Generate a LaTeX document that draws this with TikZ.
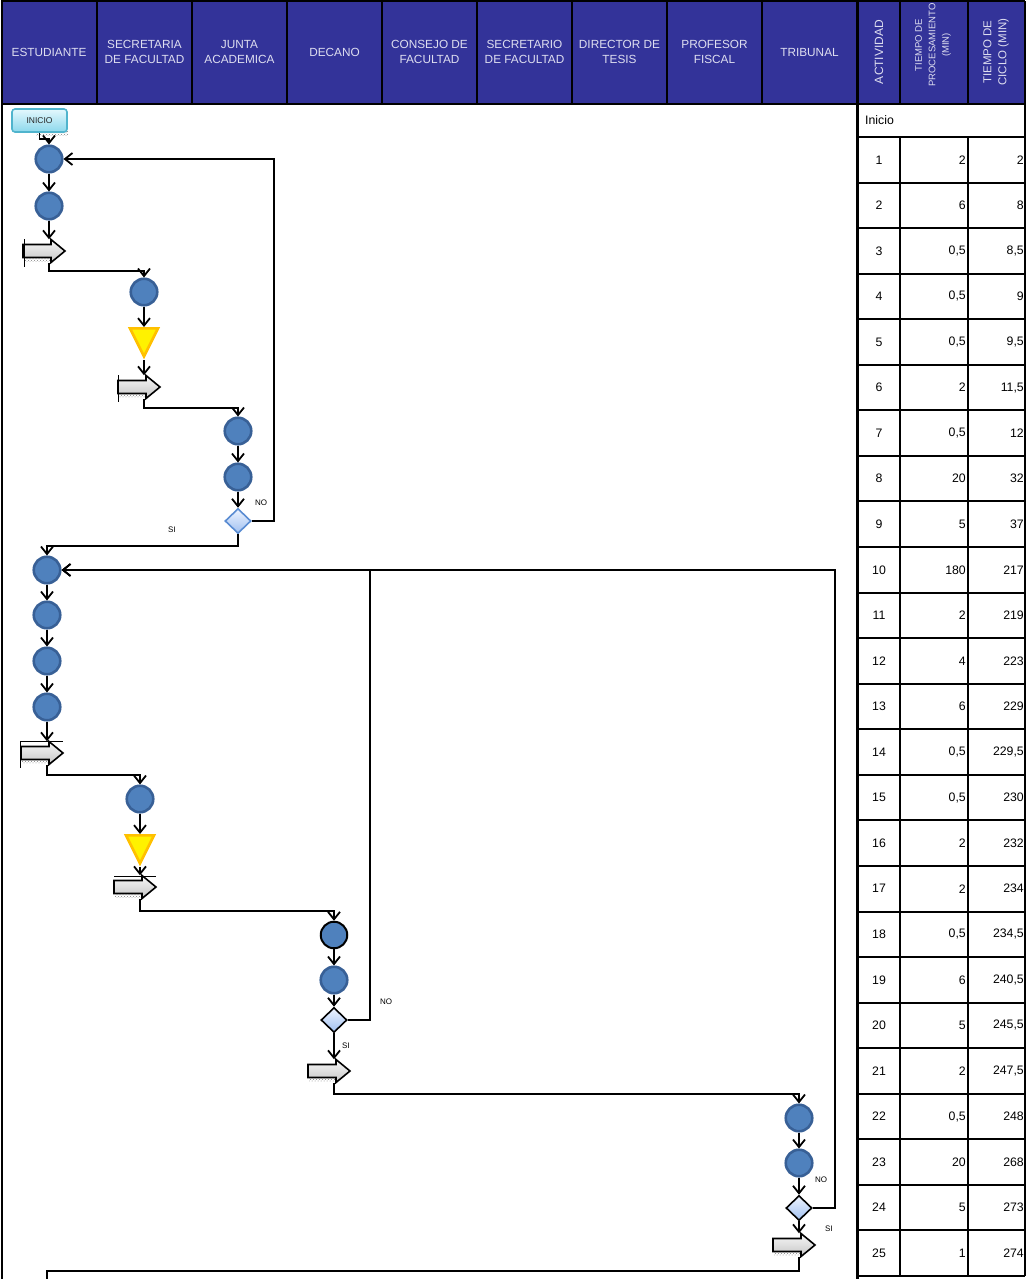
\documentclass[tikz,border=0pt]{standalone}
\usepackage{fontspec}
\setmainfont{Liberation Sans}
\usetikzlibrary{arrows.meta,shapes.geometric,calc,patterns}

\definecolor{headblue}{RGB}{51,51,153}
\definecolor{headtext}{RGB}{222,222,240}
\definecolor{opfill}{RGB}{79,129,189}
\definecolor{opline}{RGB}{56,96,150}
\definecolor{deltaline}{RGB}{255,192,0}
\definecolor{decline}{RGB}{90,140,210}
\definecolor{dectop}{RGB}{238,244,255}
\definecolor{decbot}{RGB}{160,192,240}
\definecolor{startline}{RGB}{80,180,205}
\definecolor{starttop}{RGB}{228,248,253}
\definecolor{startbot}{RGB}{140,216,236}

% transport step: an anchor node at the connector's x, with the block arrow drawn round it
\newcommand\movearrow[3]{%
  \node[tnode] (#1) at (#2,#3) {};
  \fill[pattern=crosshatch dots, pattern color=gray] ($(#1)+(-25,6)$) rectangle ($(#1)+(2,10)$);
  \draw[tshape] ($(#1)+(-26,-6.5)$) -- ($(#1)+(2,-6.5)$) -- ($(#1)+(2,-11.5)$)
     -- ($(#1)+(16,0)$) -- ($(#1)+(2,11.5)$) -- ($(#1)+(2,6.5)$)
     -- ($(#1)+(-26,6.5)$) -- cycle;
}

\begin{document}
\begin{tikzpicture}[x=1pt,y=-1pt,
  grid/.style={line width=2pt,black},
  lanehead/.style={text=headtext,align=center,font=\fontsize{11.8}{15.5}\selectfont},
  cell/.style={inner sep=0,font=\fontsize{12.3}{14}\selectfont},
  op/.style={circle,minimum size=26.5,inner sep=0,fill=opfill,draw=opline,line width=2.6pt},
  wait/.style={isosceles triangle,isosceles triangle stretches,shape border rotate=-90,
     minimum width=28,minimum height=28,inner sep=0,fill=yellow,draw=deltaline,line width=2.6pt},
  decision/.style={diamond,minimum width=26,minimum height=25,inner sep=0,
     top color=dectop,bottom color=decbot,draw=black,line width=1.6pt},
  tnode/.style={rectangle,minimum width=2,minimum height=23,inner sep=0},
  tshape/.style={draw=black,line width=1.6pt,top color=gray!6,bottom color=gray!45},
  startbox/.style={rounded corners=3pt,minimum width=55,minimum height=23,
     top color=starttop,bottom color=startbot,draw=startline,line width=1.6pt,
     font=\fontsize{8.5}{10}\selectfont,text=black!85},
  flow/.style={line width=1.8pt,-{Straight Barb[length=7.5pt,width=12pt]}},
  tag/.style={font=\fontsize{8}{9}\selectfont,inner sep=0}]

\useasboundingbox (0,0) rectangle (1026,1279);

% ---------- header ----------
\fill[headblue] (1,1) rectangle (1025,104);
\foreach \x in {97,192,287,382,477,572,667,762}
  \draw[grid] (\x,1) -- (\x,104);
\draw[grid] (1,1) -- (1025,1);
\draw[grid] (1,104) -- (1025,104);
\draw[grid] (2,1) -- (2,1279);
\draw[line width=3pt] (857,1) -- (857,1279);
\draw[grid] (900,1) -- (900,104);
\draw[grid] (968,1) -- (968,104);
\draw[grid] (1025,1) -- (1025,1276);

\node[lanehead] (lane1) at (49,52) {ESTUDIANTE};
\node[lanehead] (lane2) at (144.5,52) {SECRETARIA\\DE FACULTAD};
\node[lanehead] (lane3) at (239.5,52) {JUNTA\\ACADEMICA};
\node[lanehead] (lane4) at (334.5,52) {DECANO};
\node[lanehead] (lane5) at (429.5,52) {CONSEJO DE\\FACULTAD};
\node[lanehead] (lane6) at (524.5,52) {SECRETARIO\\DE FACULTAD};
\node[lanehead] (lane7) at (619.5,52) {DIRECTOR DE\\TESIS};
\node[lanehead] (lane8) at (714.5,52) {PROFESOR\\FISCAL};
\node[lanehead] (lane9) at (809.5,52) {TRIBUNAL};

\node[lanehead,rotate=90,font=\fontsize{12}{15}\selectfont] (hact) at (879,52) {ACTIVIDAD};
\node[lanehead,rotate=90,font=\fontsize{9.5}{13.5}\selectfont] (htp) at (933,45) {TIEMPO DE\\PROCESAMIENTO\\(MIN)};
\node[lanehead,rotate=90,font=\fontsize{11.5}{15}\selectfont] (htc) at (996,52) {TIEMPO DE\\CICLO (MIN)};

% ---------- table ----------
\node[cell,anchor=west] (inicio) at (865,120) {Inicio};
\foreach \k in {0,...,25}
  \draw[grid] (857,{137+45.56*\k}) -- (1025,{137+45.56*\k});
\draw[grid] (900,137) -- (900,1276);
\draw[grid] (968,137) -- (968,1276);
\foreach \i/\p/\c in {1/2/2, 2/6/8, 3/{0,5}/{8,5}, 4/{0,5}/9, 5/{0,5}/{9,5},
   6/2/{11,5}, 7/{0,5}/12, 8/20/32, 9/5/37, 10/180/217, 11/2/219, 12/4/223,
   13/6/229, 14/{0,5}/{229,5}, 15/{0,5}/230, 16/2/232, 17/2/234,
   18/{0,5}/{234,5}, 19/6/{240,5}, 20/5/{245,5}, 21/2/{247,5}, 22/{0,5}/248,
   23/20/268, 24/5/273, 25/1/274}{
  \pgfmathsetmacro\yy{137+45.56*(\i-0.5)}
  \node[cell] (act-\i) at (879,\yy) {\i};
  \node[cell,anchor=east] (tp-\i) at (966,\yy) {\p};
  \node[cell,anchor=east] (tc-\i) at (1024,\yy) {\c};
}

% ---------- flow ----------
\fill[pattern=crosshatch dots, pattern color=gray] (36,132) rectangle (68,136);
\node[startbox] (start) at (39.5,120.5) {INICIO};

\node[op] (c1) at (49,159) {};
\node[op] (c2) at (49,206) {};
\movearrow{a1}{49}{251}
\draw[black,line width=1pt] (24,239) -- (24,267);
\node[op] (c3) at (144,292) {};
\node[wait] (w1) at (144,337) {};
\movearrow{a2}{144}{387}
\draw[black,line width=1pt] (118,375) -- (118,402);
\node[op] (c4) at (238,431) {};
\node[op] (c5) at (238,477) {};
\node[decision,draw=decline] (d1) at (238,521) {};

\node[op] (c6) at (47,570) {};
\node[op] (c7) at (47,615) {};
\node[op] (c8) at (47,661) {};
\node[op] (c9) at (47,707) {};
\movearrow{a3}{47}{753}
\draw[black,line width=1pt] (20,741) -- (63,741);
\draw[black,line width=1pt] (20,741) -- (20,768);
\node[op] (c10) at (140,799) {};
\node[wait] (w2) at (140,844) {};
\movearrow{a4}{140}{887}
\draw[black,line width=1pt] (114,876) -- (156,876);
\node[op,draw=black,line width=2pt] (c11) at (334,935) {};
\node[op] (c12) at (334,980) {};
\node[decision] (d2) at (334,1020) {};
\movearrow{a5}{334}{1071}

\node[op] (c13) at (799,1118) {};
\node[op] (c14) at (799,1163) {};
\node[decision] (d3) at (799,1208) {};
\movearrow{a6}{799}{1245}
\coordinate (next) at (47,1290);

% connectors
\draw[flow] (start.south) -- ++(0,6) -| (c1.north);
\draw[flow] (c1) -- (c2);
\draw[flow] (c2) -- (a1);
\draw[flow] (a1.south) -- ++(0,8) -| (c3.north);
\draw[flow] (c3) -- (w1);
\draw[flow] (w1) -- (a2);
\draw[flow] (a2.south) -- ++(0,9.5) -| (c4.north);
\draw[flow] (c4) -- (c5);
\draw[flow] (c5) -- (d1);
\draw[flow] (d1.east) -- ++(22,0) |- (c1.east);
\draw[flow] (d1.south) -- ++(0,12) -| (c6.north);

\draw[flow] (c6) -- (c7);
\draw[flow] (c7) -- (c8);
\draw[flow] (c8) -- (c9);
\draw[flow] (c9) -- (a3);
\draw[flow] (a3.south) -- ++(0,10.5) -| (c10.north);
\draw[flow] (c10) -- (w2);
\draw[flow] (w2) -- (a4);
\draw[flow] (a4.south) -- ++(0,12.5) -| (c11.north);
\draw[flow] (c11) -- (c12);
\draw[flow] (c12) -- (d2);
\draw[flow] (d2.east) -- ++(22,0) |- (c6.east);
\draw[flow] (d2) -- (a5);
\draw[flow] (a5.south) -- ++(0,11) -| (c13.north);

\draw[flow] (c13) -- (c14);
\draw[flow] (c14) -- (d3);
\draw[flow] (d3.east) -- ++(22,0) |- (c6.east);
\draw[flow] (d3) -- (a6);
\draw[flow] (a6.south) -- ++(0,14) -| (next);

% branch labels
\node[tag] (no1) at (261,503) {NO};
\node[tag] (si1) at (172,530) {SI};
\node[tag] (no2) at (386,1002) {NO};
\node[tag] (si2) at (346,1046) {SI};
\node[tag] (no3) at (821,1180) {NO};
\node[tag] (si3) at (829,1229) {SI};
\end{tikzpicture}
\end{document}
